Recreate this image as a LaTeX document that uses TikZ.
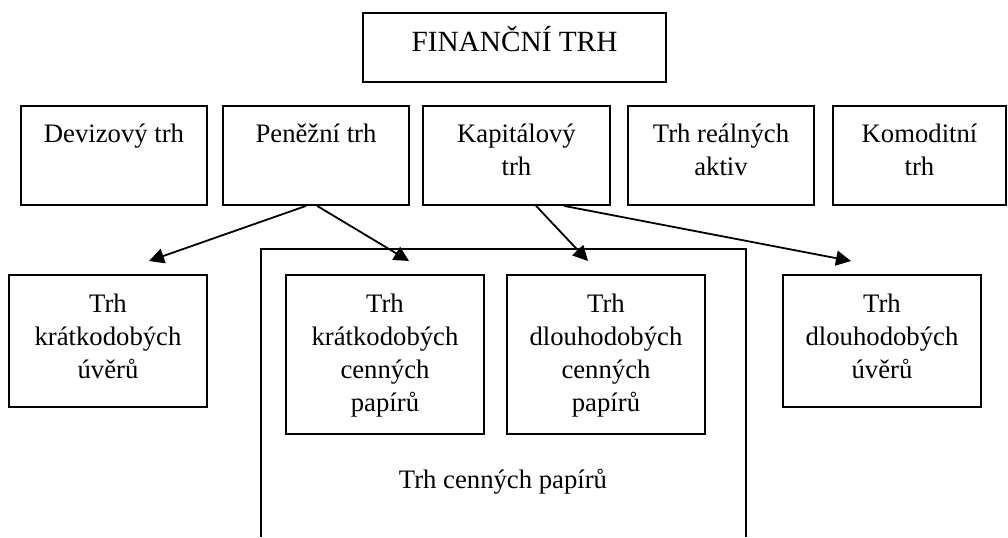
\documentclass[tikz,border=0pt]{standalone}
\usepackage{fontspec}
\setmainfont{Liberation Serif}
\usetikzlibrary{arrows.meta,fit}

\begin{document}
\begin{tikzpicture}[x=0.5pt,y=-0.5pt,
  box/.style={draw, line width=0.9pt, inner sep=0pt},
  boxtext/.style={anchor=base, align=center, inner sep=0pt, font=\fontsize{13.35}{16.5}\selectfont},
  arr/.style={-{Triangle[length=7.5pt,width=7.5pt]}, line width=0.9pt}]
  \useasboundingbox (0,0) rectangle (1008,537);
  %% 1. Top box
  \node[box, fit={(363,13) (666,82)}] (fin) {};
  \node[boxtext, font=\fontsize{14.65}{17}\selectfont] (fint) at (514.5,51) {FINANČNÍ TRH};
  %% 2. Second row (text placed at the baseline of its last line)
  \node[box, fit={(21,106) (207,205)}] (dev) {};
  \node[box, fit={(223,106) (409,205)}] (pen) {};
  \node[box, fit={(423,106) (610,205)}] (kap) {};
  \node[box, fit={(628,106) (814,205)}] (rea) {};
  \node[box, fit={(833,106) (1006,205)}] (kom) {};
  \node[boxtext] (devt) at (114,142) {Devizový trh};
  \node[boxtext] (pent) at (316,142) {Peněžní trh};
  \node[boxtext] (kapt) at (516.5,175) {Kapitálový\\trh};
  \node[boxtext] (reat) at (721,175) {Trh reálných\\aktiv};
  \node[boxtext] (komt) at (919.5,175) {Komoditní\\trh};
  %% 3. Securities market (open at the bottom)
  \draw[line width=0.9pt] (261,537) -- (261,249) -- (746,249) -- (746,537);
  \node[boxtext] (cpt) at (503,488) {Trh cenných papírů};
  %% 4. Third row
  \node[box, fit={(9,275) (207,407)}] (ku) {};
  \node[box, fit={(286,275) (484,434)}] (kcp) {};
  \node[box, fit={(507,275) (705,434)}] (dcp) {};
  \node[box, fit={(783,275) (981,407)}] (du) {};
  \node[boxtext] (kut) at (108,378) {Trh\\krátkodobých\\úvěrů};
  \node[boxtext] (kcpt) at (385,411) {Trh\\krátkodobých\\cenných\\papírů};
  \node[boxtext] (dcpt) at (606,411) {Trh\\dlouhodobých\\cenných\\papírů};
  \node[boxtext] (dut) at (882,378) {Trh\\dlouhodobých\\úvěrů};
  %% 5. Arrows
  \coordinate (kuTip) at (149,261);
  \coordinate (kcpTip) at (409,261);
  \coordinate (dcpTip) at (588,261);
  \coordinate (duTip) at (851,261);
  \draw[arr] ([xshift=42pt]pen.south west) -- (kuTip);
  \draw[arr] ([xshift=47.5pt]pen.south west) -- (kcpTip);
  \draw[arr] ([xshift=57pt]kap.south west) -- (dcpTip);
  \draw[arr] ([xshift=71pt]kap.south west) -- (duTip);
\end{tikzpicture}
\end{document}
